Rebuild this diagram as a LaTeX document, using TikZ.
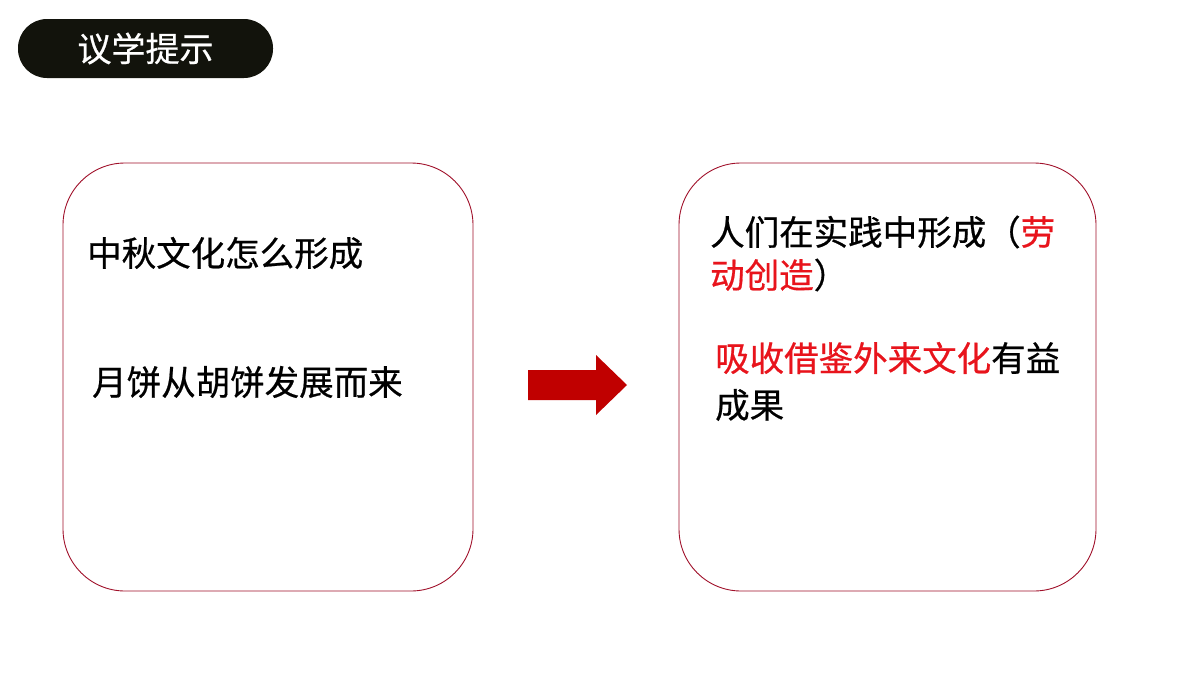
\documentclass[tikz,border=0pt]{standalone}
\usepackage{fontspec}
\setmainfont[FakeBold=0.6]{Noto Sans CJK SC}
\definecolor{boxred}{HTML}{A0102A}
\definecolor{pill}{HTML}{12130C}
\definecolor{arr}{HTML}{C00000}
\definecolor{txtred}{HTML}{E8141C}
\tikzset{panel/.style={draw=boxred,line width=0.9pt,rounded corners=62pt},
 txt/.style={anchor=west,inner sep=0pt,font=\fontsize{34.5}{40}\selectfont}}
\begin{document}
\begin{tikzpicture}[x=1pt,y=-1pt]
\useasboundingbox (0,0) rectangle (1200,675);
\fill[white] (0,0) rectangle (1200,675);
\node[fill=pill,rounded corners=29pt,minimum width=255pt,minimum height=59pt,inner sep=0pt,text=white,font=\fontsize{34}{40}\selectfont] (title) at (145.5,48.5) {议学提示};
\draw[panel] (63,163) rectangle (473,591);
\node (lbox) at (268,377) {};
\draw[panel] (679,163) rectangle (1096,591);
\node (rbox) at (887,377) {};
\node[txt] (q) at (87,253) {中秋文化怎么形成};
\node[txt] (a) at (92,382) {月饼从胡饼发展而来};
\fill[arr] (528,370) -- (596,370) -- (596,355) -- (627,385) -- (596,415) -- (596,400) -- (528,400) -- cycle;
\node[txt] (r1) at (710,232) {人们在实践中形成（\textcolor{txtred}{劳}};
\node[txt] (r2) at (710,275) {\textcolor{txtred}{动创造}）};
\node[txt] (r3) at (715,358) {\textcolor{txtred}{吸收借鉴外来文化}有益};
\node[txt] (r4) at (715,405) {成果};
\end{tikzpicture}
\end{document}
